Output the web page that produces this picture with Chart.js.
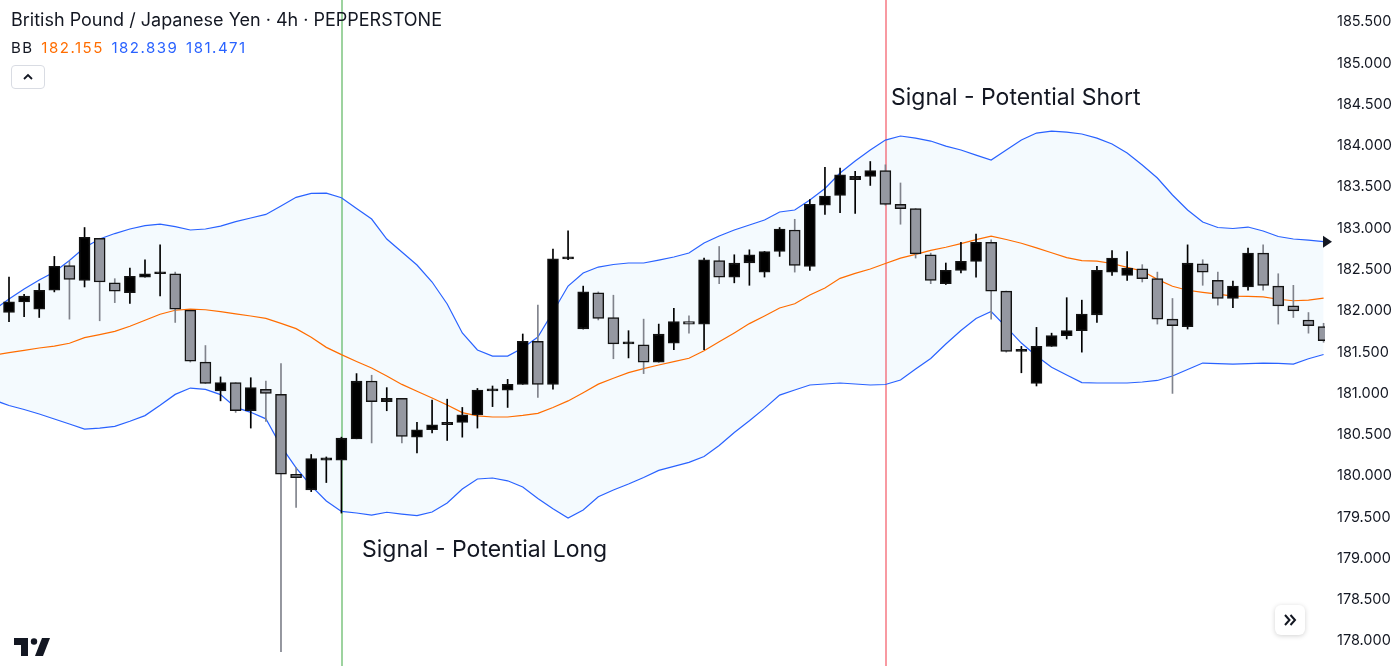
<!DOCTYPE html>
<html lang="en">
<head>
<meta charset="UTF-8">
<meta name="viewport" content="width=device-width, initial-scale=1.0">
<title>British Pound / Japanese Yen - 4h - Bollinger Bands</title>
<script src="https://cdn.jsdelivr.net/npm/chart.js"></script>
<style>
    html, body { margin: 0; padding: 0; background: #fff; }
    body { font-family: Inter, "Noto Sans", sans-serif; color: #131722; }
    .wrap { position: relative; width: 1400px; height: 666px; overflow: hidden; }
    .wrap canvas { position: absolute; left: 0; top: 0; }
    .title { position: absolute; left: 11px; top: 9px; font-size: 18px; line-height: 22px; white-space: nowrap; }
    .legend { position: absolute; left: 11px; top: 38px; font-size: 15px; line-height: 20px; white-space: nowrap; letter-spacing: 1.5px; }
    .legend span { margin-right: 2px; }
    .legend .basis { color: #ff6d00; }
    .legend .band { color: #2962ff; }
    .collapse { position: absolute; left: 11px; top: 65px; width: 32px; height: 22px; border: 1px solid #d9dce3; border-radius: 4px; background: #fff; }
    .collapse svg { position: absolute; left: 10px; top: 6px; }
    .signal { position: absolute; font-size: 23px; line-height: 26px; white-space: nowrap; }
    .scroll-btn { position: absolute; left: 1275px; top: 605px; width: 30px; height: 30px; border-radius: 6px; background: #fff; box-shadow: 0 1px 5px rgba(0,0,0,0.18); }
    .scroll-btn svg { position: absolute; left: 8px; top: 9px; }
</style>
</head>
<body>
<div class="wrap">
    <canvas id="chart"></canvas>
    <div class="title">British Pound / Japanese Yen · 4h · PEPPERSTONE</div>
    <div class="legend"><span>BB</span> <span class="basis">182.155</span> <span class="band">182.839</span> <span class="band">181.471</span></div>
    <div class="collapse"><svg width="12" height="9" viewBox="0 0 12 9"><polyline points="2,7 6,3 10,7" fill="none" stroke="#131722" stroke-width="1.8"/></svg></div>
    <div class="signal" style="left:891px; top:84px;">Signal - Potential Short</div>
    <div class="signal" style="left:362px; top:536px;">Signal - Potential Long</div>
    <div class="scroll-btn"><svg width="14" height="12" viewBox="0 0 14 12"><polyline points="2,1 6.5,6 2,11" fill="none" stroke="#131722" stroke-width="2"/><polyline points="7.5,1 12,6 7.5,11" fill="none" stroke="#131722" stroke-width="2"/></svg></div>
</div>

<script>
// GBPJPY 4h candles (left to right)
const opens = [181.98,182.11,182.02,182.25,182.55,182.37,182.88,182.34,182.22,182.41,
    182.45,182.45,182.01,181.38,181.03,181.13,180.79,181.05,180.99,180.02,
    179.83,180.19,180.19,180.45,181.15,180.90,180.94,180.47,180.56,180.62,
    180.65,180.74,181.03,181.04,181.11,181.63,181.11,182.63,181.78,182.22,
    181.92,181.60,181.59,181.38,181.61,181.87,181.84,182.61,182.41,182.58,
    182.47,182.72,182.98,182.54,183.28,183.40,183.59,183.63,183.70,183.29,
    183.24,182.68,182.33,182.49,182.60,182.83,182.24,181.51,181.12,181.57,
    181.70,181.76,181.95,182.47,182.43,182.51,182.39,181.90,181.81,182.57,
    182.37,182.15,182.29,182.70,182.30,182.06,181.89,181.81];
const highs = [182.41,182.20,182.33,182.66,182.60,183.01,182.88,182.39,182.52,182.62,
    182.80,182.47,182.01,181.58,181.20,181.13,181.19,181.15,181.36,180.10,
    180.26,180.23,180.47,181.24,181.22,181.07,180.94,180.65,180.92,180.93,
    180.83,181.06,181.09,181.17,181.72,182.07,182.75,182.97,182.30,182.23,
    182.19,181.76,181.90,181.84,182.03,181.94,182.64,182.78,182.68,182.74,
    182.72,183.01,183.11,183.35,183.74,183.73,183.69,183.81,183.77,183.55,
    183.24,182.70,182.58,182.83,182.93,182.86,182.24,181.57,181.80,181.73,
    182.16,182.13,182.54,182.73,182.72,182.56,182.47,182.15,182.80,182.62,
    182.47,182.36,182.76,182.80,182.45,182.31,181.98,181.85];
const lows = [181.87,181.93,181.92,182.23,181.90,182.29,181.88,182.10,182.09,182.41,
    182.18,181.86,181.38,181.12,180.91,180.77,180.58,180.66,177.87,179.62,
    179.81,179.92,179.55,180.45,180.40,180.79,180.40,180.28,180.52,180.43,
    180.47,180.58,180.84,180.83,181.11,180.95,181.05,182.62,181.78,181.89,
    181.42,181.43,181.24,181.38,181.53,181.73,181.53,182.33,182.34,182.31,
    182.41,182.66,182.47,182.49,183.17,183.19,183.18,183.52,183.28,183.05,
    182.64,182.33,182.32,182.46,182.41,181.90,181.50,181.25,181.09,181.57,
    181.66,181.50,181.86,182.43,182.37,182.35,181.84,181.00,181.78,182.31,
    182.07,182.04,182.25,182.25,181.84,181.92,181.73,181.62];
const closes = [182.11,182.18,182.25,182.54,182.38,182.89,182.35,182.24,182.42,182.45,
    182.47,182.02,181.39,181.12,181.13,180.79,181.07,181.00,180.02,179.98,
    180.21,180.22,180.46,181.15,180.90,180.94,180.48,180.56,180.62,180.65,
    180.74,181.04,181.05,181.11,181.63,181.11,182.63,182.64,182.23,181.91,
    181.60,181.61,181.38,181.72,181.87,181.84,182.62,182.41,182.58,182.68,
    182.72,182.99,182.55,183.29,183.39,183.65,183.63,183.70,183.29,183.24,
    182.69,182.37,182.49,182.60,182.83,182.24,181.51,181.52,181.57,181.70,
    181.76,181.96,182.49,182.64,182.52,182.39,181.90,181.82,182.58,182.47,
    182.15,182.30,182.70,182.31,182.06,182.00,181.82,181.64];

// Bollinger bands, first value belongs to the bar just left of the view
const upperBand = [182.01, 182.144,182.265,182.374,182.471,182.611,182.768,182.871,182.937,182.992,183.034,
    183.052,183.021,182.980,182.992,183.028,183.081,183.125,183.169,183.272,183.376,
    183.423,183.426,183.371,183.240,183.113,182.871,182.713,182.556,182.350,182.083,
    181.732,181.526,181.453,181.453,181.550,181.683,181.986,182.301,182.459,182.531,
    182.562,182.580,182.580,182.616,182.653,182.701,182.822,182.907,182.980,183.040,
    183.101,183.198,183.222,183.343,183.483,183.670,183.816,183.949,184.070,184.119,
    184.094,184.058,183.997,183.949,183.888,183.828,183.949,184.070,184.155,184.179,
    184.167,184.143,184.094,184.022,183.913,183.767,183.610,183.404,183.222,183.077,
    183.010,182.998,183.016,182.968,182.901,182.871,182.858,182.839];
const basisBand = [181.465, 181.494,181.521,181.550,181.574,181.608,181.676,181.712,181.752,181.814,181.887,
    181.959,182.008,182.022,182.014,181.990,181.963,181.938,181.910,181.848,181.785,
    181.680,181.558,181.470,181.387,181.308,181.212,181.109,181.026,180.944,180.859,
    180.768,180.728,180.714,180.714,180.734,180.759,180.830,180.909,181.009,181.112,
    181.184,181.251,181.301,181.344,181.385,181.426,181.516,181.625,181.733,181.846,
    181.938,182.035,182.087,182.192,182.277,182.394,182.455,182.507,182.574,182.640,
    182.685,182.734,182.771,182.815,182.863,182.905,182.865,182.819,182.764,182.705,
    182.646,182.608,182.604,182.574,182.528,182.483,182.382,182.299,182.250,182.224,
    182.202,182.180,182.175,182.169,182.141,182.123,182.131,182.155];
const lowerBand = [180.92, 180.853,180.805,180.750,180.690,180.629,180.568,180.580,180.601,180.662,180.731,
    180.856,180.988,181.065,181.049,180.986,180.831,180.771,180.692,180.362,180.098,
    179.880,179.696,179.570,179.551,179.526,179.560,179.538,179.520,179.563,179.672,
    179.841,179.963,179.975,179.941,179.866,179.726,179.603,179.490,179.587,179.748,
    179.829,179.902,179.981,180.067,180.116,180.165,180.235,180.368,180.526,180.668,
    180.819,180.980,181.041,181.102,181.114,181.126,181.114,181.102,181.108,181.162,
    181.295,181.424,181.598,181.762,181.907,181.992,181.804,181.610,181.453,181.316,
    181.223,181.131,181.126,181.126,181.126,181.138,181.157,181.211,181.289,181.368,
    181.362,181.356,181.361,181.366,181.365,181.356,181.42,181.471];

// signal bars (index into the candles)
const longSignalBar = 22;
const shortSignalBar = 58;

const isUp = opens.map((o, i) => closes[i] >= o);
const bars = opens.map((_, i) => i);

Chart.defaults.font.family = 'Inter, "Noto Sans", sans-serif';

// vertical signal lines, right edge marker and logo
const overlayPlugin = {
    id: 'overlay',
    beforeDatasetsDraw(chart) {
        const { ctx, chartArea, scales } = chart;
        const lines = [[longSignalBar, 'rgba(76,175,80,0.55)'], [shortSignalBar, 'rgba(242,54,69,0.5)']];
        ctx.save();
        lines.forEach(([bar, color]) => {
            const x = Math.round(scales.x.getPixelForValue(bar)) + 1;
            ctx.strokeStyle = color;
            ctx.lineWidth = 2;
            ctx.beginPath();
            ctx.moveTo(x, chartArea.top);
            ctx.lineTo(x, chartArea.bottom);
            ctx.stroke();
        });
        ctx.restore();
    },
    afterDraw(chart) {
        const { ctx, chartArea, scales } = chart;
        ctx.save();
        // price marker of the upper band
        const y = scales.y.getPixelForValue(upperBand[upperBand.length - 1]);
        const x = chartArea.right - 2;
        ctx.fillStyle = '#131722';
        ctx.beginPath();
        ctx.moveTo(x, y - 6);
        ctx.lineTo(x + 9, y);
        ctx.lineTo(x, y + 6);
        ctx.closePath();
        ctx.fill();

        // logo
        ctx.fillStyle = '#131722';
        ctx.fillRect(14, 638, 14, 7);
        ctx.fillRect(21, 638, 7, 18);
        ctx.beginPath();
        ctx.arc(34, 641.5, 3.2, 0, Math.PI * 2);
        ctx.fill();
        ctx.beginPath();
        ctx.moveTo(42, 638);
        ctx.lineTo(50, 638);
        ctx.lineTo(43, 656);
        ctx.lineTo(35, 656);
        ctx.closePath();
        ctx.fill();
        ctx.restore();
    }
};

new Chart(document.getElementById('chart'), {
    type: 'bar',
    data: {
        datasets: [{
            type: 'bar',
            label: 'Body',
            data: bars.map(i => ({ x: i, y: [opens[i], closes[i]] })),
            backgroundColor: isUp.map(u => u ? '#000000' : '#9598a1'),
            borderColor: '#131313',
            borderWidth: 1.5,
            borderSkipped: false,
            barThickness: 11,
            minBarLength: 2,
            grouped: false,
            order: 0
        }, {
            type: 'bar',
            label: 'Wick',
            data: bars.map(i => ({ x: i, y: [lows[i], highs[i]] })),
            backgroundColor: isUp.map(u => u ? '#000000' : '#80838c'),
            borderWidth: 0,
            barThickness: 1,
            grouped: false,
            order: 1
        }, {
            type: 'line',
            label: 'Upper',
            data: upperBand.map((v, i) => ({ x: i - 1, y: v })),
            borderColor: '#2962ff',
            borderWidth: 1.2,
            pointRadius: 0,
            tension: 0,
            fill: '+2',
            backgroundColor: 'rgba(33,150,243,0.05)',
            order: 2
        }, {
            type: 'line',
            label: 'Basis',
            data: basisBand.map((v, i) => ({ x: i - 1, y: v })),
            borderColor: '#ff6d00',
            borderWidth: 1.2,
            pointRadius: 0,
            tension: 0,
            fill: false,
            order: 3
        }, {
            type: 'line',
            label: 'Lower',
            data: lowerBand.map((v, i) => ({ x: i - 1, y: v })),
            borderColor: '#2962ff',
            borderWidth: 1.2,
            pointRadius: 0,
            tension: 0,
            fill: false,
            order: 4
        }]
    },
    options: {
        responsive: true,
        maintainAspectRatio: false,
        animation: false,
        layout: { padding: 0 },
        plugins: {
            legend: { display: false },
            tooltip: { enabled: false },
            filler: { drawTime: 'beforeDatasetsDraw' }
        },
        scales: {
            x: {
                type: 'linear',
                display: false,
                offset: false,
                min: -0.596,
                max: 87.094
            },
            y: {
                position: 'right',
                min: 177.697,
                max: 185.767,
                grid: { display: false, drawTicks: false },
                border: { display: false },
                ticks: {
                    stepSize: 0.5,
                    includeBounds: false,
                    padding: 12,
                    color: '#131722',
                    font: { size: 14.5 },
                    callback: v => v.toFixed(3)
                },
                afterFit(scale) {
                    scale.width = 75;
                    scale.paddingTop = 0;
                    scale.paddingBottom = 0;
                }
            }
        }
    },
    plugins: [overlayPlugin]
});
</script>
</body>
</html>
